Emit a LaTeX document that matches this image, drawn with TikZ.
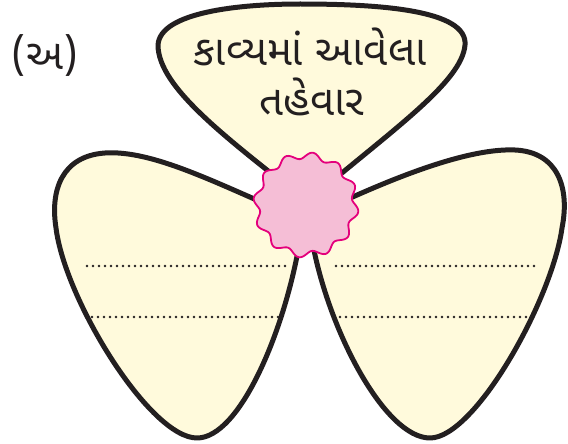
\documentclass[tikz,border=0pt]{standalone}
\usepackage{fontspec}
\newfontfamily\gujfont[Script=Gujarati]{Noto Sans Gujarati UI}
\definecolor{petalfill}{HTML}{FFFADC}
\definecolor{ink}{HTML}{231F20}
\definecolor{flowerfill}{HTML}{F5BED6}
\definecolor{flowerline}{HTML}{E4007C}
\tikzset{
  petal/.style={draw=ink, fill=petalfill, line width=5pt, line join=round},
  dotline/.style={draw=ink, line width=2.8pt, line cap=round, dash pattern=on 0pt off 6pt},
  label/.style={text=ink, font=\gujfont\fontsize{42}{50}\selectfont, inner sep=0pt, align=center}
}
\begin{document}
\begin{tikzpicture}[x=1pt,y=-1pt]
\useasboundingbox (0,0) rectangle (568,444);
% top petal
\path[petal] (302,198) .. controls (230,140) and (158,88) .. (158,45)
  .. controls (160,12) and (240,4) .. (300,4)
  .. controls (380,4) and (468,10) .. (465,45)
  .. controls (462,82) and (392,130) .. (312,198) -- cycle;
% left petal
\path[petal] (275,208) .. controls (210,180) and (150,150) .. (105,153)
  .. controls (62,156) and (50,190) .. (56,228)
  .. controls (65,300) and (150,438) .. (197,438)
  .. controls (240,438) and (285,330) .. (300,240) -- cycle;
% right petal
\path[petal] (335,205) .. controls (400,175) and (470,148) .. (515,150)
  .. controls (558,152) and (570,188) .. (562,228)
  .. controls (552,300) and (475,438) .. (430,438)
  .. controls (385,438) and (328,330) .. (312,240) -- cycle;
% dotted lines
\draw[dotline] (87,266) -- (285,266);
\draw[dotline] (92,317) -- (283,317);
\draw[dotline] (336,266) -- (534,266);
\draw[dotline] (340,317) -- (533,317);
% flower centre
\draw[draw=flowerline, fill=flowerfill, line width=1.8pt, shift={(306,205)}]
  plot[domain=0:360, samples=300, smooth cycle] (\x:{49.5+3.2*sin(12*\x)});
% texts
\node[label] (title1) at (310,47) {કાવ્યમાં આવેલા};
\node[label] (title2) at (312,97) {તહેવાર};
\node[label] (mark) at (45,55) {(અ)};
\end{tikzpicture}
\end{document}
